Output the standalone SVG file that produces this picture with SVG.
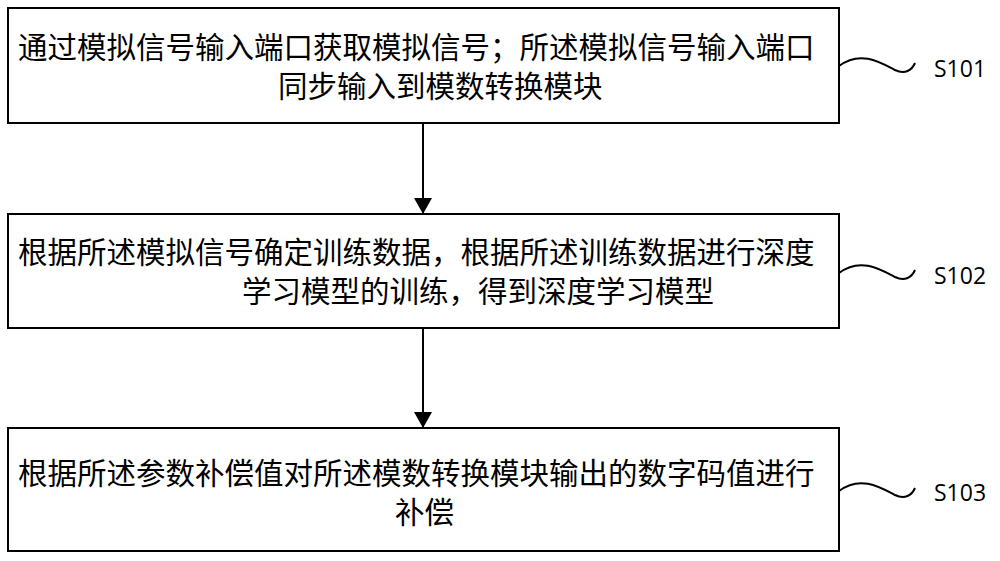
<svg xmlns="http://www.w3.org/2000/svg" width="1000" height="561" viewBox="0 0 1000 561">
<defs>
<style>
.box{fill:#fff;stroke:#000;stroke-width:2}
.t{font-family:"Noto Sans CJK SC","Liberation Sans",sans-serif;font-size:29.5px;fill:#000}
.l{font-family:"Open Sans","Liberation Sans",sans-serif;font-size:23px;fill:#000}
.c{stroke:#000;stroke-width:2;fill:none}
</style>
<marker id="ah" markerWidth="18" markerHeight="18" refX="16" refY="9" orient="auto" markerUnits="userSpaceOnUse" viewBox="0 0 18 18"><path d="M0,0L16,9L0,18z" fill="#000"/></marker>
</defs>
<rect width="1000" height="561" fill="#fff"/>
<g id="n1"><rect class="box" x="8" y="8" width="831" height="115"/>
<text class="t" x="18" y="58">通过模拟信号输入端口获取模拟信号；所述模拟信号输入端口</text>
<text class="t" x="278" y="97">同步输入到模数转换模块</text></g>
<g id="n2"><rect class="box" x="8" y="214" width="831" height="114"/>
<text class="t" x="18" y="263">根据所述模拟信号确定训练数据，根据所述训练数据进行深度</text>
<text class="t" x="242" y="302">学习模型的训练，得到深度学习模型</text></g>
<g id="n3"><rect class="box" x="8" y="428" width="831" height="123"/>
<text class="t" x="18" y="484">根据所述参数补偿值对所述模数转换模块输出的数字码值进行</text>
<text class="t" x="395" y="523">补偿</text></g>
<g id="labels">
<text class="l" x="934" y="77">S101</text>
<text class="l" x="934" y="284">S102</text>
<text class="l" x="934" y="501">S103</text>
</g>
<g id="connectors">
<path class="c" d="M423,123V214" marker-end="url(#ah)"/>
<path class="c" d="M423,328V428" marker-end="url(#ah)"/>
<path class="c" stroke-width="2.5" d="M839,66C860,50 880,62 895,70C905,75 912,70 915,63"/>
<path class="c" stroke-width="2.5" d="M839,273C860,257 880,269 895,277C905,282 912,277 915,270"/>
<path class="c" stroke-width="2.5" d="M839,491C860,475 880,487 895,495C905,500 912,495 915,488"/>
</g>
</svg>
